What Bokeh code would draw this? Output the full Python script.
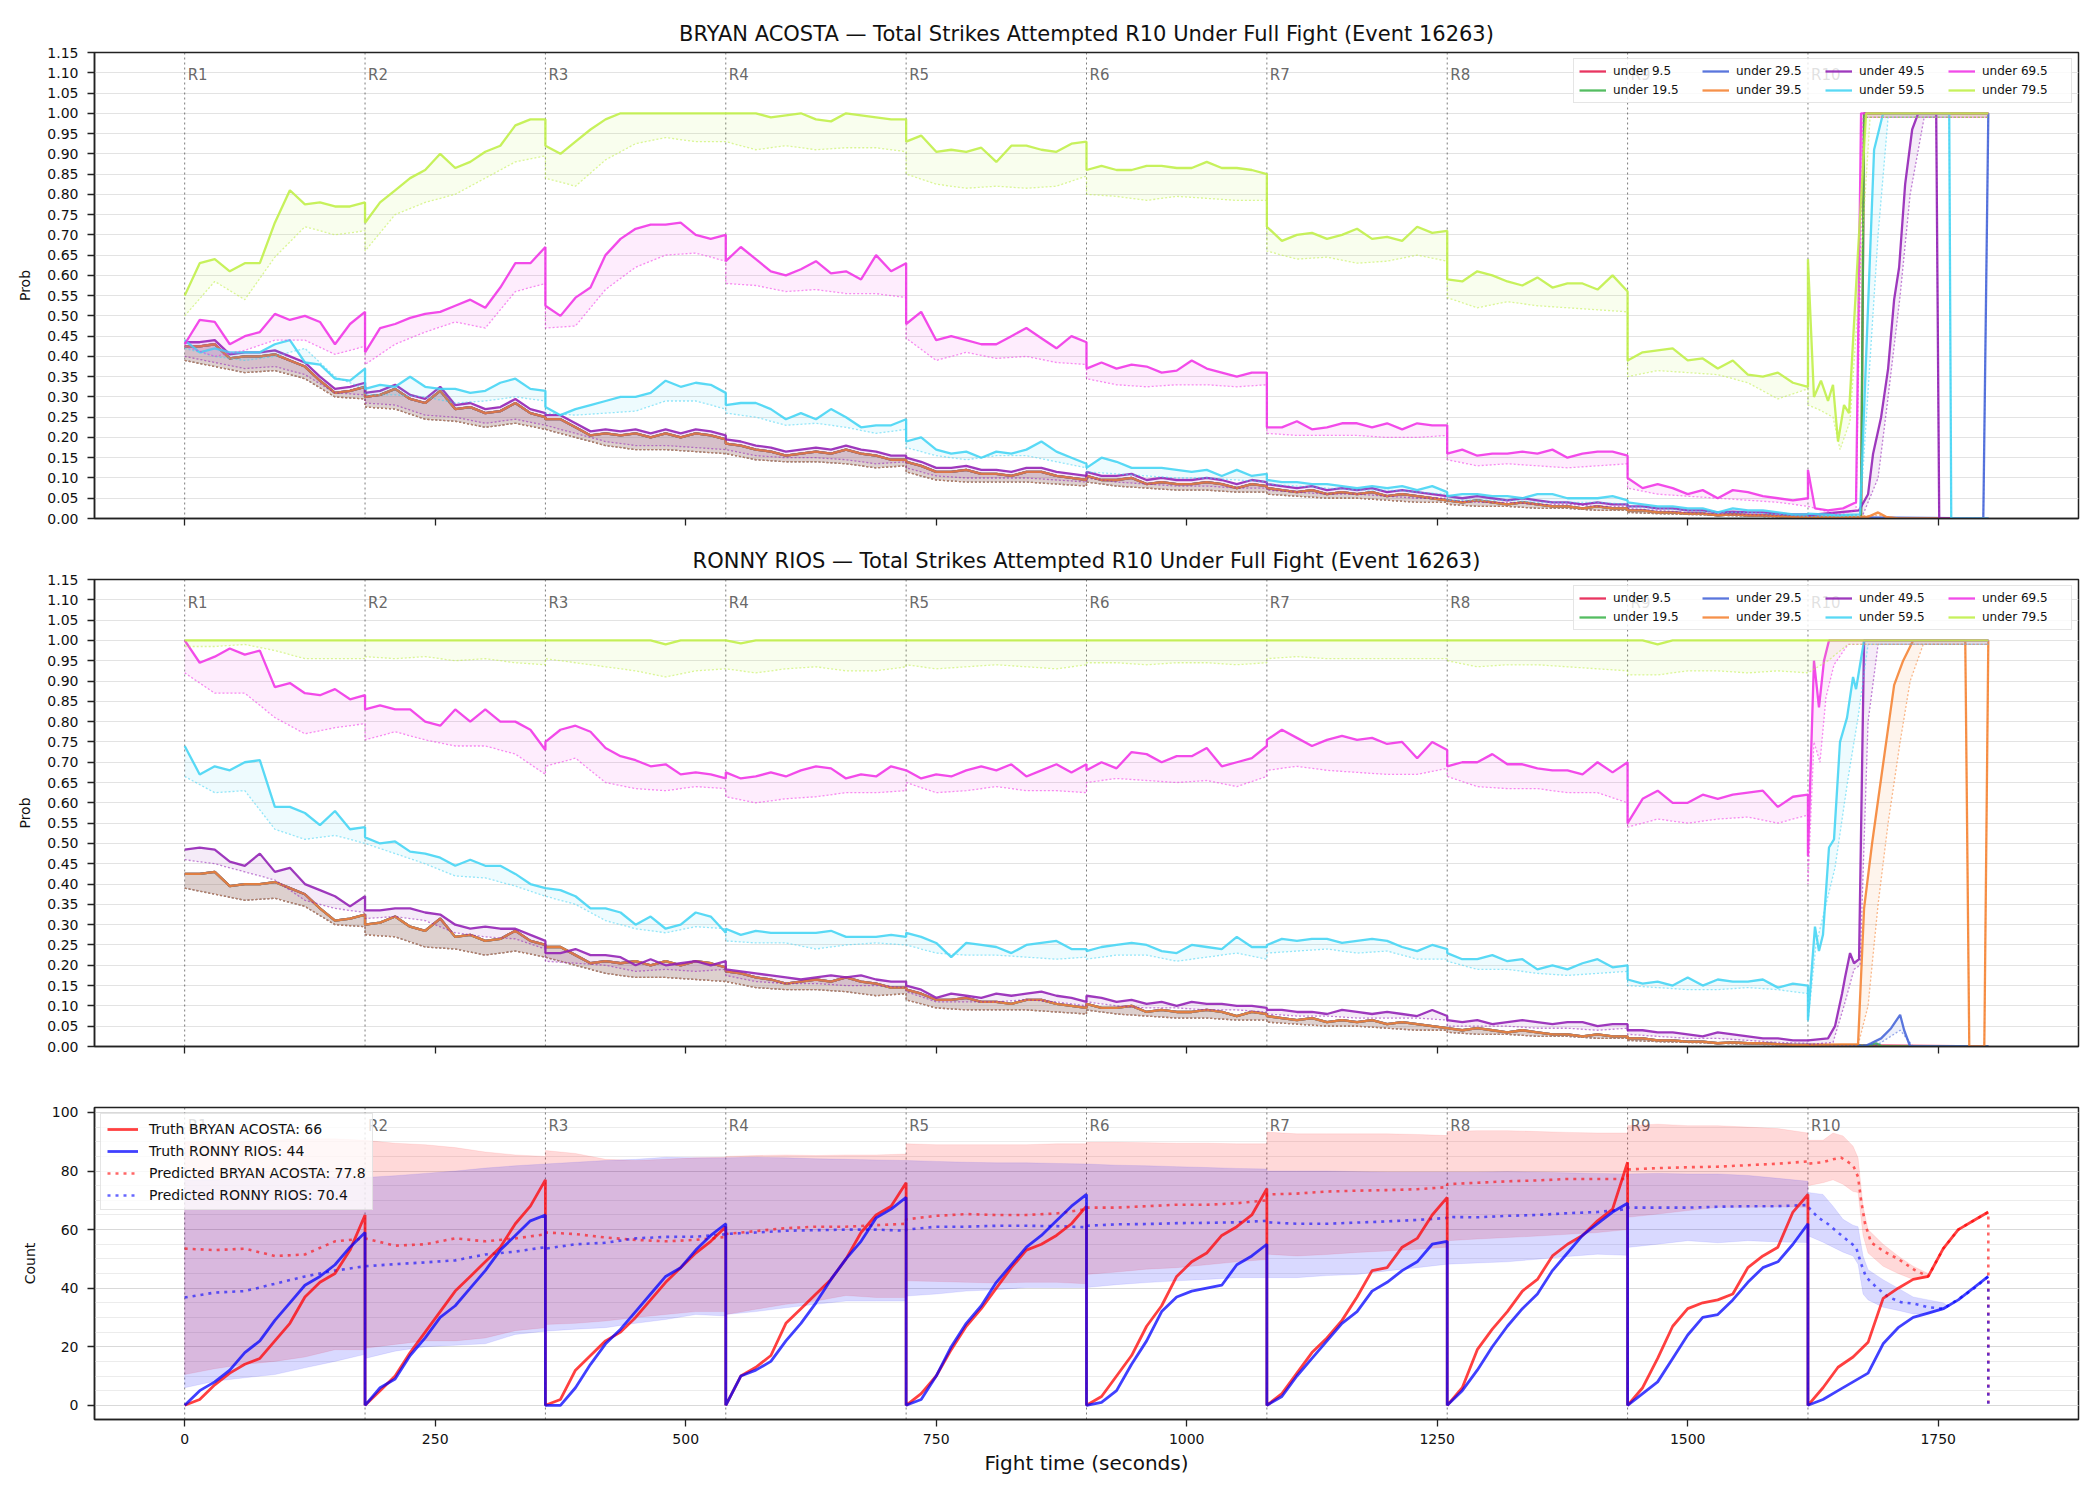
from bokeh.plotting import figure
from bokeh.layouts import column
from bokeh.models import (Range1d, FixedTicker, PrintfTickFormatter, Span, Legend,
                          LegendItem, SingleIntervalTicker)
from bokeh.core.properties import value
from bokeh.embed import file_html
from bokeh.resources import INLINE

FONT = "DejaVu Sans"
ROUND_SEC = 180          # length of one round on the fight clock
LINE_STEP = 15           # seconds between samples of the main lines
LO_STEP = 30             # seconds between samples of lower bounds / bands
X_TICKS = [0, 250, 500, 750, 1000, 1250, 1500, 1750]
ROUND_LABELS = ["R1", "R2", "R3", "R4", "R5", "R6", "R7", "R8", "R9", "R10"]
THRESHOLDS = ["under 9.5", "under 19.5", "under 29.5", "under 39.5",
              "under 49.5", "under 59.5", "under 69.5", "under 79.5"]
COLORS = ["#e6194b", "#3cb44b", "#4363d8", "#f58231",
          "#911eb4", "#42d4f4", "#f032e6", "#bfef45"]

# ---------------------------------------------------------------- shared low thresholds
# (under 9.5 / 19.5 / 29.5 / 39.5 sit on top of each other for both fighters, R1-R9)
LOW = [
    [0.425, 0.425, 0.43, 0.395, 0.40, 0.40, 0.405, 0.39, 0.375, 0.34, 0.31, 0.315, 0.325],
    [0.30, 0.305, 0.32, 0.295, 0.285, 0.315, 0.27, 0.275, 0.26, 0.265, 0.285, 0.26, 0.25],
    [0.245, 0.245, 0.225, 0.205, 0.21, 0.205, 0.21, 0.20, 0.21, 0.20, 0.21, 0.205, 0.195],
    [0.185, 0.18, 0.17, 0.165, 0.155, 0.16, 0.165, 0.16, 0.17, 0.16, 0.155, 0.145, 0.145],
    [0.14, 0.13, 0.115, 0.115, 0.12, 0.11, 0.11, 0.105, 0.115, 0.115, 0.105, 0.10, 0.095],
    [0.105, 0.095, 0.095, 0.10, 0.085, 0.09, 0.085, 0.085, 0.09, 0.085, 0.075, 0.085, 0.08],
    [0.075, 0.07, 0.065, 0.07, 0.06, 0.065, 0.06, 0.065, 0.055, 0.06, 0.055, 0.05, 0.045],
    [0.045, 0.04, 0.045, 0.04, 0.035, 0.04, 0.035, 0.03, 0.03, 0.025, 0.03, 0.025, 0.025],
    [0.02, 0.02, 0.015, 0.015, 0.012, 0.012, 0.008, 0.01, 0.008, 0.008, 0.006, 0.004, 0.004],
]
LOW_LO = [
    [0.39, 0.375, 0.36, 0.365, 0.345, 0.30, 0.295],
    [0.275, 0.27, 0.245, 0.24, 0.225, 0.235, 0.22],
    [0.22, 0.20, 0.18, 0.17, 0.17, 0.165, 0.16],
    [0.16, 0.145, 0.14, 0.14, 0.135, 0.125, 0.13],
    [0.115, 0.095, 0.09, 0.09, 0.09, 0.085, 0.08],
    [0.09, 0.08, 0.075, 0.07, 0.07, 0.065, 0.065],
    [0.06, 0.055, 0.05, 0.05, 0.045, 0.04, 0.04],
    [0.035, 0.03, 0.03, 0.025, 0.025, 0.02, 0.02],
    [0.015, 0.012, 0.01, 0.008, 0.006, 0.004, 0.003],
]

# ---------------------------------------------------------------- BRYAN ACOSTA
A_JUMP_END = [(1620, 0.004), (1673, 0.003), (1676, 1.0), (1800, 1.0)]
A_JUMP_LO_END = [(1620, 0.002), (1673, 0.002), (1676, 0.99), (1800, 0.99)]
A_U29_END = [(1620, 0.004), (1795, 0.0), (1800, 1.0)]
A_U29_LO_END = [(1620, 0.002), (1795, 0.0), (1800, 0.99)]
A_U39_END = [(1620, 0.004), (1680, 0.004), (1690, 0.015), (1698, 0.004), (1710, 0.0), (1800, 0.0)]
A_U39_LO_END = [(1620, 0.002), (1690, 0.008), (1710, 0.0), (1800, 0.0)]

A_U49 = [
    [0.435, 0.435, 0.44, 0.405, 0.41, 0.41, 0.415, 0.40, 0.385, 0.35, 0.32, 0.325, 0.335],
    [0.31, 0.315, 0.33, 0.305, 0.295, 0.325, 0.28, 0.285, 0.27, 0.275, 0.295, 0.27, 0.26],
    [0.255, 0.255, 0.235, 0.215, 0.22, 0.215, 0.22, 0.21, 0.22, 0.21, 0.22, 0.215, 0.205],
    [0.195, 0.19, 0.18, 0.175, 0.165, 0.17, 0.175, 0.17, 0.18, 0.17, 0.165, 0.155, 0.155],
    [0.15, 0.14, 0.125, 0.125, 0.13, 0.12, 0.12, 0.115, 0.125, 0.125, 0.115, 0.11, 0.105],
    [0.115, 0.105, 0.105, 0.11, 0.095, 0.10, 0.095, 0.095, 0.10, 0.095, 0.085, 0.095, 0.09],
    [0.085, 0.08, 0.075, 0.08, 0.07, 0.075, 0.07, 0.075, 0.065, 0.07, 0.065, 0.06, 0.055],
    [0.055, 0.05, 0.055, 0.05, 0.045, 0.05, 0.045, 0.04, 0.04, 0.035, 0.04, 0.035, 0.035],
    [0.03, 0.03, 0.025, 0.025, 0.02, 0.02, 0.015, 0.017, 0.015, 0.015, 0.012, 0.01, 0.01],
]
A_U49_END = [(1620, 0.008), (1671, 0.02), (1680, 0.06), (1685, 0.16), (1693, 0.25), (1700, 0.37),
             (1706, 0.54), (1711, 0.62), (1717, 0.825), (1724, 0.96), (1730, 1.0), (1748, 1.0),
             (1751, 0.0), (1800, 0.0)]
A_U49_LO = [
    [0.40, 0.385, 0.37, 0.375, 0.355, 0.31, 0.305],
    [0.285, 0.28, 0.255, 0.25, 0.235, 0.245, 0.23],
    [0.23, 0.21, 0.19, 0.18, 0.18, 0.175, 0.17],
    [0.17, 0.155, 0.15, 0.15, 0.145, 0.135, 0.14],
    [0.125, 0.105, 0.10, 0.10, 0.10, 0.095, 0.09],
    [0.10, 0.09, 0.085, 0.08, 0.08, 0.075, 0.075],
    [0.07, 0.065, 0.06, 0.06, 0.055, 0.05, 0.05],
    [0.045, 0.04, 0.04, 0.035, 0.035, 0.03, 0.03],
    [0.025, 0.02, 0.015, 0.012, 0.01, 0.008, 0.006],
]
A_U49_LO_END = [(1620, 0.005), (1675, 0.01), (1690, 0.1), (1700, 0.3), (1712, 0.55), (1722, 0.8),
                (1736, 0.99), (1748, 0.99), (1751, 0.0), (1800, 0.0)]

A_U59 = [
    [0.44, 0.41, 0.42, 0.41, 0.41, 0.41, 0.43, 0.44, 0.385, 0.38, 0.345, 0.34, 0.37],
    [0.32, 0.33, 0.325, 0.35, 0.325, 0.32, 0.32, 0.31, 0.315, 0.335, 0.345, 0.32, 0.315],
    [0.275, 0.255, 0.27, 0.28, 0.29, 0.30, 0.30, 0.31, 0.34, 0.325, 0.335, 0.33, 0.31],
    [0.28, 0.285, 0.285, 0.27, 0.245, 0.26, 0.245, 0.27, 0.25, 0.225, 0.23, 0.23, 0.245],
    [0.19, 0.20, 0.17, 0.16, 0.165, 0.15, 0.165, 0.16, 0.17, 0.19, 0.165, 0.15, 0.135],
    [0.125, 0.15, 0.14, 0.125, 0.125, 0.125, 0.12, 0.115, 0.12, 0.105, 0.12, 0.105, 0.11],
    [0.095, 0.09, 0.09, 0.085, 0.085, 0.08, 0.075, 0.08, 0.075, 0.08, 0.07, 0.08, 0.065],
    [0.055, 0.06, 0.06, 0.055, 0.055, 0.05, 0.06, 0.06, 0.05, 0.05, 0.05, 0.055, 0.045],
    [0.04, 0.035, 0.03, 0.03, 0.025, 0.025, 0.015, 0.025, 0.02, 0.02, 0.015, 0.01, 0.01],
]
A_U59_END = [(1620, 0.012), (1650, 0.008), (1672, 0.01), (1686, 0.91), (1695, 1.0), (1761, 1.0),
             (1763, 0.0), (1800, 0.0)]
A_U59_LO = [
    [0.42, 0.40, 0.39, 0.40, 0.42, 0.35, 0.32],
    [0.305, 0.305, 0.30, 0.285, 0.29, 0.30, 0.29],
    [0.26, 0.255, 0.26, 0.265, 0.29, 0.29, 0.27],
    [0.26, 0.25, 0.23, 0.235, 0.225, 0.21, 0.22],
    [0.175, 0.155, 0.145, 0.155, 0.155, 0.14, 0.125],
    [0.115, 0.11, 0.105, 0.10, 0.10, 0.095, 0.09],
    [0.085, 0.08, 0.075, 0.07, 0.07, 0.065, 0.06],
    [0.045, 0.045, 0.045, 0.04, 0.04, 0.04, 0.035],
    [0.03, 0.025, 0.02, 0.015, 0.015, 0.01, 0.005],
]
A_U59_LO_END = [(1620, 0.005), (1672, 0.005), (1690, 0.7), (1700, 0.99), (1761, 0.99), (1763, 0.0),
                (1800, 0.0)]

A_U69 = [
    [0.43, 0.49, 0.485, 0.43, 0.45, 0.46, 0.505, 0.49, 0.50, 0.485, 0.43, 0.48, 0.51],
    [0.41, 0.47, 0.48, 0.495, 0.505, 0.51, 0.525, 0.54, 0.52, 0.57, 0.63, 0.63, 0.67],
    [0.525, 0.50, 0.545, 0.57, 0.65, 0.69, 0.715, 0.725, 0.725, 0.73, 0.70, 0.69, 0.70],
    [0.635, 0.67, 0.64, 0.61, 0.60, 0.615, 0.635, 0.605, 0.61, 0.59, 0.65, 0.61, 0.63],
    [0.48, 0.51, 0.44, 0.45, 0.44, 0.43, 0.43, 0.45, 0.47, 0.445, 0.42, 0.45, 0.435],
    [0.37, 0.385, 0.37, 0.38, 0.375, 0.36, 0.365, 0.39, 0.37, 0.36, 0.35, 0.36, 0.36],
    [0.225, 0.225, 0.24, 0.22, 0.225, 0.235, 0.235, 0.225, 0.235, 0.22, 0.235, 0.23, 0.23],
    [0.16, 0.17, 0.155, 0.16, 0.16, 0.165, 0.16, 0.17, 0.15, 0.16, 0.165, 0.165, 0.155],
    [0.10, 0.075, 0.085, 0.075, 0.06, 0.07, 0.05, 0.07, 0.065, 0.055, 0.05, 0.045, 0.05],
]
A_U69_END = [(1620, 0.12), (1627, 0.025), (1640, 0.02), (1655, 0.025), (1668, 0.04), (1673, 1.0),
             (1800, 1.0)]
A_U69_LO = [
    [0.425, 0.40, 0.415, 0.44, 0.44, 0.405, 0.425],
    [0.38, 0.43, 0.46, 0.485, 0.47, 0.56, 0.58],
    [0.47, 0.475, 0.565, 0.62, 0.65, 0.655, 0.635],
    [0.58, 0.575, 0.56, 0.565, 0.555, 0.555, 0.545],
    [0.445, 0.39, 0.41, 0.395, 0.40, 0.385, 0.38],
    [0.345, 0.33, 0.325, 0.33, 0.33, 0.325, 0.33],
    [0.21, 0.205, 0.205, 0.205, 0.20, 0.20, 0.205],
    [0.145, 0.13, 0.135, 0.13, 0.125, 0.13, 0.135],
    [0.075, 0.06, 0.055, 0.05, 0.045, 0.04, 0.03],
]
A_U69_LO_END = [(1620, 0.03), (1650, 0.01), (1668, 0.02), (1675, 0.99), (1800, 0.99)]

A_U79 = [
    [0.55, 0.63, 0.64, 0.61, 0.63, 0.63, 0.73, 0.81, 0.775, 0.78, 0.77, 0.77, 0.78],
    [0.73, 0.78, 0.81, 0.84, 0.86, 0.90, 0.865, 0.88, 0.905, 0.92, 0.97, 0.985, 0.985],
    [0.92, 0.90, 0.93, 0.96, 0.985, 1.0, 1.0, 1.0, 1.0, 1.0, 1.0, 1.0, 1.0],
    [1.0, 1.0, 1.0, 0.99, 0.995, 1.0, 0.985, 0.98, 1.0, 0.995, 0.99, 0.985, 0.985],
    [0.93, 0.945, 0.905, 0.91, 0.905, 0.915, 0.88, 0.92, 0.92, 0.91, 0.905, 0.925, 0.93],
    [0.86, 0.87, 0.86, 0.86, 0.87, 0.87, 0.865, 0.865, 0.88, 0.865, 0.865, 0.86, 0.85],
    [0.72, 0.685, 0.70, 0.705, 0.69, 0.70, 0.715, 0.69, 0.695, 0.685, 0.72, 0.705, 0.71],
    [0.59, 0.585, 0.61, 0.60, 0.585, 0.575, 0.595, 0.57, 0.58, 0.58, 0.565, 0.60, 0.56],
    [0.39, 0.41, 0.415, 0.42, 0.39, 0.395, 0.37, 0.39, 0.355, 0.35, 0.36, 0.335, 0.325],
]
A_U79_END = [(1620, 0.64), (1626, 0.30), (1633, 0.34), (1640, 0.29), (1645, 0.33), (1650, 0.19),
             (1656, 0.28), (1661, 0.26), (1670, 0.66), (1678, 1.0), (1800, 1.0)]
A_U79_LO = [
    [0.50, 0.585, 0.54, 0.645, 0.72, 0.70, 0.71],
    [0.66, 0.75, 0.78, 0.80, 0.84, 0.88, 0.895],
    [0.84, 0.82, 0.885, 0.925, 0.94, 0.93, 0.93],
    [0.93, 0.91, 0.92, 0.91, 0.915, 0.915, 0.905],
    [0.85, 0.825, 0.815, 0.82, 0.815, 0.82, 0.845],
    [0.80, 0.795, 0.785, 0.795, 0.79, 0.785, 0.785],
    [0.66, 0.64, 0.645, 0.63, 0.635, 0.65, 0.635],
    [0.545, 0.52, 0.535, 0.525, 0.52, 0.515, 0.51],
    [0.35, 0.365, 0.36, 0.355, 0.335, 0.295, 0.32],
]
A_U79_LO_END = [(1620, 0.28), (1630, 0.27), (1645, 0.25), (1652, 0.17), (1662, 0.24), (1672, 0.60),
                (1682, 0.99), (1800, 0.99)]

# ---------------------------------------------------------------- RONNY RIOS
R_U9_END = [(1620, 0.004), (1800, 0.0)]
R_U9_LO_END = [(1620, 0.002), (1800, 0.0)]
R_U19_END = [(1620, 0.004), (1680, 0.002), (1688, 0.008), (1694, 0.0), (1800, 0.0)]
R_U19_LO_END = [(1620, 0.002), (1800, 0.0)]
R_U29_END = [(1620, 0.004), (1676, 0.0), (1683, 0.008), (1693, 0.02), (1703, 0.045), (1712, 0.078),
             (1716, 0.04), (1722, 0.0), (1800, 0.0)]
R_U29_LO_END = [(1620, 0.002), (1690, 0.005), (1712, 0.04), (1725, 0.0), (1800, 0.0)]
R_U39_END = [(1620, 0.004), (1670, 0.006), (1676, 0.34), (1684, 0.5), (1693, 0.66), (1706, 0.89),
             (1715, 0.95), (1725, 1.0), (1777, 1.0), (1781, 0.0), (1796, 0.0), (1800, 1.0)]
R_U39_LO_END = [(1620, 0.002), (1670, 0.003), (1680, 0.1), (1690, 0.35), (1700, 0.55), (1712, 0.75),
                (1722, 0.9), (1735, 0.99), (1777, 0.99), (1781, 0.0), (1796, 0.0), (1800, 0.99)]

R_U49 = [
    [0.485, 0.49, 0.485, 0.455, 0.445, 0.475, 0.43, 0.44, 0.40, 0.385, 0.37, 0.345, 0.37],
    [0.335, 0.335, 0.34, 0.34, 0.33, 0.325, 0.30, 0.29, 0.295, 0.29, 0.29, 0.275, 0.26],
    [0.23, 0.23, 0.24, 0.225, 0.225, 0.22, 0.20, 0.215, 0.20, 0.205, 0.21, 0.20, 0.21],
    [0.19, 0.185, 0.18, 0.175, 0.17, 0.165, 0.17, 0.175, 0.17, 0.175, 0.165, 0.16, 0.16],
    [0.15, 0.14, 0.12, 0.13, 0.125, 0.12, 0.13, 0.125, 0.13, 0.135, 0.125, 0.12, 0.11],
    [0.125, 0.12, 0.11, 0.115, 0.105, 0.11, 0.10, 0.11, 0.105, 0.105, 0.10, 0.10, 0.095],
    [0.09, 0.09, 0.085, 0.085, 0.08, 0.09, 0.085, 0.08, 0.085, 0.08, 0.075, 0.09, 0.075],
    [0.065, 0.06, 0.065, 0.055, 0.06, 0.065, 0.06, 0.055, 0.06, 0.06, 0.05, 0.055, 0.055],
    [0.04, 0.04, 0.035, 0.035, 0.03, 0.025, 0.035, 0.03, 0.025, 0.02, 0.02, 0.015, 0.015],
]
R_U49_END = [(1620, 0.015), (1640, 0.02), (1647, 0.05), (1654, 0.13), (1657, 0.17), (1662, 0.23),
             (1666, 0.205), (1671, 0.215), (1676, 1.0), (1800, 1.0)]
R_U49_LO = [
    [0.46, 0.45, 0.43, 0.41, 0.36, 0.34, 0.33],
    [0.315, 0.32, 0.31, 0.28, 0.27, 0.265, 0.24],
    [0.21, 0.205, 0.20, 0.185, 0.19, 0.185, 0.19],
    [0.175, 0.16, 0.155, 0.155, 0.15, 0.15, 0.145],
    [0.135, 0.11, 0.11, 0.11, 0.115, 0.11, 0.10],
    [0.11, 0.10, 0.095, 0.095, 0.09, 0.09, 0.085],
    [0.08, 0.075, 0.075, 0.07, 0.07, 0.07, 0.065],
    [0.05, 0.05, 0.05, 0.045, 0.045, 0.04, 0.045],
    [0.03, 0.025, 0.02, 0.02, 0.015, 0.01, 0.008],
]
R_U49_LO_END = [(1620, 0.005), (1645, 0.01), (1656, 0.1), (1666, 0.19), (1672, 0.2), (1680, 0.8),
                (1690, 0.99), (1800, 0.99)]

R_U59 = [
    [0.74, 0.67, 0.69, 0.68, 0.70, 0.705, 0.59, 0.59, 0.575, 0.545, 0.58, 0.535, 0.54],
    [0.515, 0.50, 0.505, 0.48, 0.475, 0.465, 0.445, 0.46, 0.445, 0.445, 0.425, 0.40, 0.39],
    [0.39, 0.385, 0.37, 0.34, 0.34, 0.33, 0.30, 0.32, 0.29, 0.30, 0.33, 0.32, 0.28],
    [0.29, 0.275, 0.285, 0.28, 0.28, 0.28, 0.28, 0.285, 0.27, 0.27, 0.27, 0.275, 0.27],
    [0.28, 0.27, 0.255, 0.22, 0.255, 0.25, 0.245, 0.23, 0.25, 0.255, 0.26, 0.24, 0.24],
    [0.235, 0.245, 0.25, 0.255, 0.25, 0.235, 0.23, 0.25, 0.245, 0.24, 0.27, 0.245, 0.245],
    [0.25, 0.265, 0.26, 0.265, 0.265, 0.255, 0.26, 0.265, 0.26, 0.245, 0.235, 0.25, 0.24],
    [0.23, 0.215, 0.215, 0.225, 0.21, 0.215, 0.19, 0.20, 0.19, 0.205, 0.215, 0.195, 0.20],
    [0.165, 0.155, 0.16, 0.15, 0.17, 0.15, 0.165, 0.16, 0.16, 0.165, 0.145, 0.155, 0.15],
]
R_U59_END = [(1620, 0.065), (1627, 0.295), (1631, 0.235), (1635, 0.275), (1641, 0.49), (1646, 0.51),
             (1652, 0.75), (1659, 0.81), (1665, 0.91), (1668, 0.88), (1672, 0.94), (1676, 1.0),
             (1800, 1.0)]
R_U59_LO = [
    [0.665, 0.625, 0.63, 0.535, 0.51, 0.52, 0.50],
    [0.50, 0.475, 0.45, 0.42, 0.415, 0.395, 0.37],
    [0.37, 0.35, 0.31, 0.29, 0.28, 0.295, 0.29],
    [0.26, 0.255, 0.255, 0.24, 0.25, 0.255, 0.25],
    [0.25, 0.23, 0.225, 0.225, 0.22, 0.215, 0.22],
    [0.215, 0.225, 0.225, 0.21, 0.22, 0.23, 0.215],
    [0.23, 0.235, 0.24, 0.23, 0.235, 0.215, 0.215],
    [0.21, 0.19, 0.19, 0.18, 0.175, 0.18, 0.185],
    [0.15, 0.145, 0.14, 0.14, 0.145, 0.14, 0.13],
]
R_U59_LO_END = [(1620, 0.06), (1628, 0.25), (1647, 0.44), (1660, 0.66), (1670, 0.81), (1680, 0.99),
                (1800, 0.99)]

R_U69 = [
    [1.0, 0.945, 0.96, 0.98, 0.965, 0.975, 0.885, 0.895, 0.87, 0.865, 0.88, 0.855, 0.865],
    [0.83, 0.84, 0.83, 0.83, 0.80, 0.79, 0.83, 0.80, 0.83, 0.80, 0.80, 0.78, 0.73],
    [0.75, 0.78, 0.79, 0.775, 0.735, 0.715, 0.705, 0.69, 0.695, 0.67, 0.675, 0.67, 0.66],
    [0.675, 0.66, 0.665, 0.675, 0.665, 0.68, 0.69, 0.685, 0.66, 0.67, 0.665, 0.69, 0.68],
    [0.68, 0.66, 0.67, 0.665, 0.68, 0.69, 0.68, 0.695, 0.665, 0.68, 0.695, 0.675, 0.695],
    [0.68, 0.70, 0.685, 0.725, 0.72, 0.70, 0.715, 0.715, 0.735, 0.69, 0.70, 0.71, 0.74],
    [0.755, 0.78, 0.76, 0.74, 0.755, 0.765, 0.755, 0.76, 0.745, 0.75, 0.71, 0.75, 0.73],
    [0.69, 0.70, 0.70, 0.72, 0.695, 0.695, 0.685, 0.68, 0.68, 0.67, 0.70, 0.675, 0.70],
    [0.55, 0.61, 0.63, 0.60, 0.60, 0.62, 0.61, 0.62, 0.625, 0.63, 0.59, 0.615, 0.62],
]
R_U69_END = [(1620, 0.47), (1626, 0.95), (1631, 0.835), (1636, 0.95), (1641, 1.0), (1800, 1.0)]
R_U69_LO = [
    [0.92, 0.87, 0.87, 0.81, 0.77, 0.785, 0.795],
    [0.755, 0.775, 0.755, 0.74, 0.74, 0.72, 0.67],
    [0.69, 0.71, 0.65, 0.635, 0.63, 0.64, 0.635],
    [0.615, 0.60, 0.61, 0.615, 0.625, 0.625, 0.63],
    [0.65, 0.625, 0.63, 0.64, 0.63, 0.63, 0.625],
    [0.65, 0.66, 0.655, 0.65, 0.655, 0.64, 0.665],
    [0.68, 0.69, 0.68, 0.675, 0.67, 0.67, 0.685],
    [0.665, 0.64, 0.635, 0.635, 0.625, 0.625, 0.60],
    [0.54, 0.56, 0.55, 0.56, 0.565, 0.55, 0.57],
]
R_U69_LO_END = [(1620, 0.40), (1626, 0.75), (1632, 0.70), (1638, 0.86), (1646, 0.94), (1660, 0.99),
                (1800, 0.99)]

R_U79 = [
    [1.0, 1.0, 1.0, 1.0, 1.0, 1.0, 1.0, 1.0, 1.0, 1.0, 1.0, 1.0, 1.0],
    [1.0, 1.0, 1.0, 1.0, 1.0, 1.0, 1.0, 1.0, 1.0, 1.0, 1.0, 1.0, 1.0],
    [1.0, 1.0, 1.0, 1.0, 1.0, 1.0, 1.0, 1.0, 0.99, 1.0, 1.0, 1.0, 1.0],
    [1.0, 0.993, 1.0, 1.0, 1.0, 1.0, 1.0, 1.0, 1.0, 1.0, 1.0, 1.0, 1.0],
    [1.0, 1.0, 1.0, 1.0, 1.0, 1.0, 1.0, 1.0, 1.0, 1.0, 1.0, 1.0, 1.0],
    [1.0, 1.0, 1.0, 1.0, 1.0, 1.0, 1.0, 1.0, 1.0, 1.0, 1.0, 1.0, 1.0],
    [1.0, 1.0, 1.0, 1.0, 1.0, 1.0, 1.0, 1.0, 1.0, 1.0, 1.0, 1.0, 1.0],
    [1.0, 1.0, 1.0, 1.0, 1.0, 1.0, 1.0, 1.0, 1.0, 1.0, 1.0, 1.0, 1.0],
    [1.0, 1.0, 0.99, 1.0, 1.0, 1.0, 1.0, 1.0, 1.0, 1.0, 1.0, 1.0, 1.0],
]
R_U79_END = [(1620, 1.0), (1800, 1.0)]
R_U79_LO = [
    [0.985, 0.985, 0.99, 0.975, 0.955, 0.955, 0.955],
    [0.96, 0.955, 0.96, 0.95, 0.955, 0.945, 0.94],
    [0.955, 0.945, 0.935, 0.925, 0.91, 0.925, 0.93],
    [0.93, 0.92, 0.93, 0.935, 0.925, 0.925, 0.935],
    [0.94, 0.93, 0.935, 0.94, 0.935, 0.93, 0.94],
    [0.945, 0.945, 0.94, 0.945, 0.945, 0.94, 0.945],
    [0.955, 0.96, 0.955, 0.955, 0.955, 0.955, 0.955],
    [0.95, 0.935, 0.94, 0.94, 0.935, 0.93, 0.925],
    [0.915, 0.915, 0.925, 0.925, 0.92, 0.925, 0.92],
]
R_U79_LO_END = [(1620, 0.92), (1640, 0.95), (1660, 0.99), (1800, 0.99)]

# ---------------------------------------------------------------- running counts (R1..R10)
TRUTH_A = [
    [0, 2, 7, 11, 14, 16, 22, 28, 37, 42, 45, 53, 65],
    [0, 5, 10, 18, 25, 32, 39, 44, 49, 54, 62, 68, 77],
    [0, 2, 12, 17, 22, 25, 30, 36, 42, 47, 52, 56, 61],
    [0, 10, 13, 17, 28, 33, 38, 43, 50, 59, 65, 68, 76],
    [0, 4, 10, 19, 27, 33, 40, 47, 53, 55, 58, 62, 68],
    [0, 3, 10, 17, 27, 34, 44, 49, 52, 58, 61, 65, 74],
    [0, 4, 11, 18, 23, 29, 37, 46, 47, 54, 57, 65, 71],
    [0, 6, 19, 26, 32, 39, 43, 51, 55, 58, 63, 67, 83],
    [0, 6, 16, 27, 33, 35, 36, 38, 47, 51, 54, 66, 72],
    [0, 6, 13, 16.5, 21.5, 36.5, 40, 43, 44, 53.5, 60, 63, 66],
]
TRUTH_R = [
    [0, 5, 8, 12, 18, 22, 29, 35, 41, 44, 48, 54, 59],
    [0, 6, 9, 17, 23, 30, 34, 40, 46, 53, 58, 63, 65],
    [0, 0, 6, 14, 21, 26, 32, 38, 44, 47, 53, 58, 62],
    [0, 10, 12, 15, 22, 28, 35, 43, 50, 56, 64, 67, 71],
    [0, 2, 10, 20, 28, 34, 42, 48, 54, 58, 63, 68, 72],
    [0, 1, 5, 14, 22, 32, 37, 39, 40, 41, 48, 51, 55],
    [0, 3, 10, 16, 22, 28, 32, 39, 42, 46, 49, 55, 56],
    [0, 5, 12, 20, 27, 33, 38, 46, 52, 58, 62, 66, 69],
    [0, 4, 8, 16, 24, 30, 31, 36, 42, 47, 49, 55, 62],
    [0, 2, 5, 8, 11, 21, 26.5, 30, 31.5, 33, 36, 40, 44],
]
PRED_A = [
    [53.5, 53, 53.5, 51, 51.5, 56, 57],
    [57, 54.5, 55, 57, 56, 57, 58.4],
    [59, 58.5, 57.3, 56.5, 56, 56.5, 57.5],
    [58.5, 59.5, 60.5, 61, 61, 61.5, 62],
    [63.5, 64.7, 65.3, 65, 65, 65.5, 67],
    [67.5, 67.5, 68, 68.5, 68.5, 69, 70],
    [72, 72.3, 73, 73.3, 73.5, 73.8, 74.5],
    [75.5, 76, 76.5, 76.8, 77.3, 77.3, 77.3],
    [80.5, 81, 81.3, 81.5, 82, 82.5, 83.3],
]
PRED_A_END = [(1620, 82.5), (1635, 83), (1645, 84), (1653, 84.6), (1665, 82), (1670, 78), (1673, 70),
              (1677, 62), (1683, 55.6), (1696, 52.5), (1710, 50), (1726, 46.3), (1740, 44),
              (1755, 53.5), (1770, 60), (1785, 63), (1800, 66), (1800, 0)]
PRED_R = [
    [36.8, 38.5, 39, 41.5, 44, 46, 47.5],
    [47.5, 48.2, 48.8, 49.5, 51.5, 52.5, 54],
    [53.5, 55, 55.5, 57, 57.5, 57.6, 58.4],
    [58.5, 59, 59.6, 59.8, 60, 60, 59.6],
    [60, 61, 61, 61.3, 61.3, 61.2, 60.8],
    [61.3, 61.8, 61.9, 62.2, 62.3, 62.5, 63],
    [62.5, 62, 62, 62.4, 62.8, 63.3, 64],
    [64.3, 64.2, 64.7, 65, 65.6, 66, 67],
    [67.5, 67.5, 67.5, 67.8, 68, 68, 68.4],
]
PRED_R_END = [(1620, 67.8), (1630, 64.2), (1640, 61.9), (1650, 59), (1660, 56.2), (1668, 54),
              (1673, 48.4), (1678, 43.8), (1688, 40.4), (1700, 37), (1713, 35.2), (1726, 34.7),
              (1740, 33.5), (1755, 33), (1770, 36.2), (1785, 39.7), (1800, 44), (1800, 0)]
PRED_A_MEAN = 77.8
PRED_R_MEAN = 70.4

BAND_A_HI = [
    [90, 90, 90, 90.5, 91, 91, 90.5],
    [90.5, 89.5, 89, 88, 86.5, 85.5, 85],
    [87, 86, 84, 83.6, 84, 84.5, 84.7],
    [85, 85.3, 85.5, 85.3, 85.5, 85.5, 85.8],
    [89.3, 89, 89, 89, 89, 89.3, 89.3],
    [89.8, 89.8, 89.7, 89.5, 89.5, 89.3, 89.3],
    [93.3, 92.7, 92.7, 92.7, 92.7, 92.5, 92.1],
    [93.5, 93.8, 93.8, 93.5, 93.2, 93, 93],
    [95.5, 96, 95.5, 95.5, 95, 94.5, 93],
]
BAND_A_HI_END = [(1620, 90.5), (1635, 90.5), (1645, 93), (1655, 92), (1665, 88.5), (1670, 84.5),
                 (1675, 68), (1680, 60), (1695, 55), (1710, 51), (1725, 47.5), (1740, 45)]
BAND_A_LO = [
    [10.5, 12.5, 14, 15, 16.5, 19, 19],
    [19.5, 20.8, 22, 22, 23, 25.5, 26.5],
    [27.6, 28, 28.8, 30, 31, 32, 32],
    [31, 32.8, 34.5, 35.6, 37.5, 36.8, 36.8],
    [42.5, 42.3, 42, 41.8, 42, 42, 41.5],
    [44.7, 45.5, 46.5, 47, 48, 49, 49.8],
    [51.6, 51, 51.5, 52.2, 52.7, 53.3, 54],
    [56.2, 56.8, 57.3, 57.8, 58.4, 59, 60],
    [64.2, 65.3, 66.5, 67.6, 67.6, 67.8, 67.6],
]
BAND_A_LO_END = [(1620, 75), (1635, 76), (1645, 77), (1655, 75.5), (1665, 73), (1670, 72.7),
                 (1675, 58), (1680, 52), (1695, 47.5), (1710, 45), (1725, 43), (1740, 43.5)]
BAND_R_HI = [
    [77, 77, 77.5, 77.5, 77.5, 77.8, 77.8],
    [77.8, 78.4, 79.2, 80, 81, 81.8, 82.4],
    [82.4, 83, 83.6, 84, 84.7, 84.5, 84.5],
    [84.5, 84.7, 84.5, 84.2, 84, 83.8, 83.6],
    [83.6, 83.3, 83, 82.8, 82.8, 82.6, 82.4],
    [82.4, 82, 81.8, 81.5, 81.2, 80.9, 80.7],
    [80, 80, 80, 79.8, 79.6, 79.6, 79.6],
    [79.6, 79.6, 79.8, 79.6, 79.4, 79.2, 79],
    [79, 79.2, 79, 79, 78.5, 77.5, 76.5],
]
BAND_R_HI_END = [(1620, 72.7), (1635, 72), (1645, 68), (1655, 63.5), (1665, 61.5), (1670, 61),
                 (1675, 51), (1680, 46.3), (1695, 42.9), (1710, 40), (1725, 37), (1740, 36),
                 (1755, 35), (1760, 34)]
BAND_R_LO = [
    [6, 8.2, 9.4, 10.5, 12.8, 15, 17.4],
    [16, 18.5, 20, 20.5, 21, 24.2, 25.3],
    [25.3, 26, 26.5, 28, 29.3, 31, 30.5],
    [31, 32, 33.3, 34.5, 35.6, 35.6, 35.6],
    [37.3, 38, 39, 39.5, 40.2, 40.2, 40.2],
    [40.2, 41.2, 41.9, 42.5, 43, 43.6, 43.6],
    [43.6, 43.6, 44.3, 44.7, 45.9, 47, 48.2],
    [48.2, 48.6, 49, 49.9, 50.8, 51.6, 51.2],
    [53.9, 55, 56.2, 55.5, 56.2, 55.8, 55.6],
]
BAND_R_LO_END = [(1620, 57.9), (1635, 55.7), (1645, 54), (1655, 52.3), (1665, 51), (1670, 48.2),
                 (1675, 38), (1680, 36), (1695, 33.5), (1710, 32.4), (1725, 31.2), (1740, 31.2),
                 (1755, 32.5), (1760, 33.5)]


def stitch(rounds, step, tail=()):
    """Lay per-round samples end to end on the fight clock, then append the tail points."""
    xs, ys = [], []
    for r, vals in enumerate(rounds):
        for k, v in enumerate(vals):
            xs.append(r * ROUND_SEC + k * step)
            ys.append(v)
    for t, v in tail:
        xs.append(t)
        ys.append(v)
    return xs, ys


def style(p, ylabel):
    p.title.text_font = FONT
    p.title.text_font_size = "21px"
    p.title.text_font_style = "normal"
    p.title.text_color = "#111111"
    p.title.align = "center"
    p.title.standoff = 13
    for ax in list(p.xaxis) + list(p.yaxis):
        ax.axis_line_color = "#222222"
        ax.axis_line_width = 1.5
        ax.major_tick_line_color = "#222222"
        ax.major_tick_line_width = 1.3
        ax.major_tick_out = 7
        ax.major_tick_in = 0
        ax.minor_tick_line_color = None
        ax.major_label_text_font = FONT
        ax.major_label_text_font_size = "14px"
        ax.major_label_text_color = "#111111"
        ax.major_label_standoff = 9
        ax.axis_label_text_font = FONT
        ax.axis_label_text_font_style = "normal"
        ax.axis_label_text_color = "#111111"
    p.yaxis.axis_label = ylabel
    p.yaxis.axis_label_text_font_size = "14px"
    p.yaxis.axis_label_standoff = 11
    p.xaxis.ticker = FixedTicker(ticks=X_TICKS)
    p.outline_line_color = "#222222"
    p.outline_line_width = 1.5
    p.outline_line_alpha = 1.0
    p.xgrid.grid_line_color = None
    p.background_fill_color = "white"
    p.border_fill_color = "white"
    for i in range(len(ROUND_LABELS)):
        p.add_layout(Span(location=i * ROUND_SEC, dimension="height", line_color="#444444",
                          line_alpha=0.7, line_dash="2 3", line_width=1, level="underlay"))


def round_labels(p, y):
    p.text(x=[i * ROUND_SEC + 3 for i in range(len(ROUND_LABELS))], y=[y] * len(ROUND_LABELS),
           text=ROUND_LABELS, text_font=value(FONT), text_font_size="15px",
           text_color="#555555", text_alpha=0.9, text_baseline="top", text_align="left")


def prob_panel(title, series, height, top, bottom):
    p = figure(width=2100, height=height, x_range=Range1d(-90, 1890), y_range=Range1d(0, 1.15),
               output_backend="svg", toolbar_location=None, title=title,
               min_border_left=94, min_border_right=22, min_border_top=top, min_border_bottom=bottom)
    style(p, "Prob")
    p.yaxis.ticker = FixedTicker(ticks=[round(0.05 * i, 2) for i in range(24)])
    p.yaxis.formatter = PrintfTickFormatter(format="%.2f")
    # shared time axis: tick marks only, the labels live on the bottom panel
    p.xaxis.major_label_overrides = {t: "" for t in X_TICKS}
    p.xaxis.major_label_text_font_size = "8px"
    p.xaxis.major_label_standoff = 0
    p.ygrid.grid_line_color = "#e3e3e3"
    p.ygrid.grid_line_width = 1
    round_labels(p, 1.15 * 0.97)
    items = []
    for label, color, (sx, sy), (lx, ly) in series:
        p.patch(sx + lx[::-1], sy + ly[::-1], fill_color=color, fill_alpha=0.09, line_color=None)
        p.line(lx, ly, line_color=color, line_alpha=0.55, line_width=1.3, line_dash="2 2")
        r = p.line(sx, sy, line_color=color, line_alpha=0.88, line_width=2.3)
        items.append(LegendItem(label=label, renderers=[r]))
    leg = Legend(items=items, location="top_right", orientation="vertical", nrows=2,
                 label_text_font=FONT, label_text_font_size="12px", label_text_color="#111111",
                 glyph_width=27, glyph_height=12, label_standoff=7, label_width=84,
                 label_height=14, spacing=5, padding=5, margin=6,
                 border_line_color="#cccccc", border_line_width=1.5,
                 background_fill_color="white", background_fill_alpha=0.8)
    p.add_layout(leg)
    return p


def build_series(low_tails, u49, u59, u69, u79):
    out = []
    for i, (tail, lo_tail) in enumerate(low_tails):
        out.append((THRESHOLDS[i], COLORS[i], stitch(LOW, LINE_STEP, tail),
                    stitch(LOW_LO, LO_STEP, lo_tail)))
    for j, (line, line_end, lo, lo_end) in enumerate([u49, u59, u69, u79]):
        out.append((THRESHOLDS[4 + j], COLORS[4 + j], stitch(line, LINE_STEP, line_end),
                    stitch(lo, LO_STEP, lo_end)))
    return out


acosta_series = build_series(
    [(A_JUMP_END, A_JUMP_LO_END), (A_JUMP_END, A_JUMP_LO_END),
     (A_U29_END, A_U29_LO_END), (A_U39_END, A_U39_LO_END)],
    (A_U49, A_U49_END, A_U49_LO, A_U49_LO_END),
    (A_U59, A_U59_END, A_U59_LO, A_U59_LO_END),
    (A_U69, A_U69_END, A_U69_LO, A_U69_LO_END),
    (A_U79, A_U79_END, A_U79_LO, A_U79_LO_END))

rios_series = build_series(
    [(R_U9_END, R_U9_LO_END), (R_U19_END, R_U19_LO_END),
     (R_U29_END, R_U29_LO_END), (R_U39_END, R_U39_LO_END)],
    (R_U49, R_U49_END, R_U49_LO, R_U49_LO_END),
    (R_U59, R_U59_END, R_U59_LO, R_U59_LO_END),
    (R_U69, R_U69_END, R_U69_LO, R_U69_LO_END),
    (R_U79, R_U79_END, R_U79_LO, R_U79_LO_END))

p1 = prob_panel("BRYAN ACOSTA \u2014 Total Strikes Attempted R10 Under Full Fight (Event 16263)",
                acosta_series, height=540, top=52, bottom=22)
p2 = prob_panel("RONNY RIOS \u2014 Total Strikes Attempted R10 Under Full Fight (Event 16263)",
                rios_series, height=526, top=38, bottom=20)

# ---------------------------------------------------------------- count panel
p3 = figure(width=2100, height=433, x_range=Range1d(-90, 1890), y_range=Range1d(-4.85, 101.7),
            output_backend="svg", toolbar_location=None,
            min_border_left=94, min_border_right=22, min_border_top=41, min_border_bottom=80)
style(p3, "Count")
p3.yaxis.ticker = SingleIntervalTicker(interval=20, num_minor_ticks=4)
p3.ygrid.grid_line_color = "#d9d9d9"
p3.ygrid.minor_grid_line_color = "#ececec"
p3.xaxis.major_label_standoff = 7
p3.xaxis.axis_label = "Fight time (seconds)"
p3.xaxis.axis_label_text_font_size = "20px"
p3.xaxis.axis_label_standoff = 4
round_labels(p3, -4.85 + 0.97 * (101.7 + 4.85))

for hi, hi_end, lo, lo_end, color in [
        (BAND_A_HI, BAND_A_HI_END, BAND_A_LO, BAND_A_LO_END, "#ff0000"),
        (BAND_R_HI, BAND_R_HI_END, BAND_R_LO, BAND_R_LO_END, "#0000ff")]:
    hx, hy = stitch(hi, LO_STEP, hi_end)
    lx, ly = stitch(lo, LO_STEP, lo_end)
    p3.patch(hx + lx[::-1], hy + ly[::-1], fill_color=color, fill_alpha=0.15, line_color=color,
             line_alpha=0.08, line_width=1)

pa_x, pa_y = stitch(PRED_A, LO_STEP, PRED_A_END)
pr_x, pr_y = stitch(PRED_R, LO_STEP, PRED_R_END)
r_pa = p3.line(pa_x, pa_y, line_color="#ff0000", line_alpha=0.6, line_width=2.6, line_dash="3 5")
r_pr = p3.line(pr_x, pr_y, line_color="#0000ff", line_alpha=0.6, line_width=2.6, line_dash="3 5")

ta_x, ta_y = stitch(TRUTH_A, LINE_STEP)
tr_x, tr_y = stitch(TRUTH_R, LINE_STEP)
r_ta = p3.line(ta_x, ta_y, line_color="#ff0000", line_alpha=0.75, line_width=2.8)
r_tr = p3.line(tr_x, tr_y, line_color="#0000ff", line_alpha=0.75, line_width=2.8)

leg3 = Legend(items=[
    LegendItem(label=f"Truth BRYAN ACOSTA: {TRUTH_A[-1][-1]:g}", renderers=[r_ta]),
    LegendItem(label=f"Truth RONNY RIOS: {TRUTH_R[-1][-1]:g}", renderers=[r_tr]),
    LegendItem(label=f"Predicted BRYAN ACOSTA: {PRED_A_MEAN:g}", renderers=[r_pa]),
    LegendItem(label=f"Predicted RONNY RIOS: {PRED_R_MEAN:g}", renderers=[r_pr]),
], location="top_left", label_text_font=FONT, label_text_font_size="14px",
    label_text_color="#111111", glyph_width=31, glyph_height=14, label_standoff=11,
    label_height=17, spacing=5, padding=6, margin=6,
    border_line_color="#cccccc", border_line_width=1.5,
    background_fill_color="white", background_fill_alpha=0.8)
p3.add_layout(leg3)

layout = column(p1, p2, p3, spacing=0)
open("out.html", "w").write(file_html(layout, INLINE))
